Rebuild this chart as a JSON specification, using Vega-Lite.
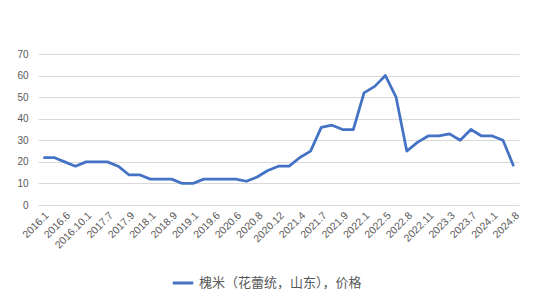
{
  "$schema": "https://vega.github.io/schema/vega-lite/v6.json",
  "width": 481,
  "height": 151,
  "autosize": "none",
  "padding": {"left": 38, "top": 54, "right": 17, "bottom": 97},
  "background": "white",
  "config": {"view": {"stroke": null}},
  "data": {"values": [
    {"t": "2016.1", "v": 22}, {"t": "2016.3", "v": 22}, {"t": "2016.6", "v": 20}, {"t": "2016.8", "v": 18},
    {"t": "2016.10.1", "v": 20}, {"t": "2017.3", "v": 20}, {"t": "2017.7", "v": 20}, {"t": "2017.8", "v": 18},
    {"t": "2017.9", "v": 14}, {"t": "2017.11", "v": 14}, {"t": "2018.1", "v": 12}, {"t": "2018.5", "v": 12},
    {"t": "2018.9", "v": 12}, {"t": "2018.11", "v": 10}, {"t": "2019.1", "v": 10}, {"t": "2019.3", "v": 12},
    {"t": "2019.6", "v": 12}, {"t": "2019.9", "v": 12}, {"t": "2020.6", "v": 12}, {"t": "2020.7", "v": 11},
    {"t": "2020.8", "v": 13}, {"t": "2020.10", "v": 16}, {"t": "2020.12", "v": 18}, {"t": "2021.2", "v": 18},
    {"t": "2021.4", "v": 22}, {"t": "2021.5", "v": 25}, {"t": "2021.7", "v": 36}, {"t": "2021.8", "v": 37},
    {"t": "2021.9", "v": 35}, {"t": "2021.11", "v": 35}, {"t": "2022.1", "v": 52}, {"t": "2022.3", "v": 55},
    {"t": "2022.5", "v": 60}, {"t": "2022.6", "v": 50}, {"t": "2022.8", "v": 25}, {"t": "2022.10", "v": 29},
    {"t": "2022.11", "v": 32}, {"t": "2023.1", "v": 32}, {"t": "2023.3", "v": 33}, {"t": "2023.5", "v": 30},
    {"t": "2023.7", "v": 35}, {"t": "2023.10", "v": 32}, {"t": "2024.1", "v": 32}, {"t": "2024.5", "v": 30},
    {"t": "2024.8", "v": 18}
  ]},
  "mark": {"type": "line", "strokeWidth": 2.75, "strokeJoin": "round"},
  "encoding": {
    "x": {
      "field": "t", "type": "ordinal", "sort": null,
      "scale": {"type": "point", "padding": 0.5},
      "axis": {
        "title": null,
        "values": ["2016.1","2016.6","2016.10.1","2017.7","2017.9","2018.1","2018.9","2019.1","2019.6","2020.6","2020.8","2020.12","2021.4","2021.7","2021.9","2022.1","2022.5","2022.8","2022.11","2023.3","2023.7","2024.1","2024.8"],
        "labelAngle": -45, "labelAlign": "right", "labelBaseline": "top",
        "labelFont": "Liberation Sans", "labelFontSize": 10.5, "labelColor": "#595959",
        "domain": false, "ticks": false, "grid": false, "labelPadding": 5, "labelOverlap": false
      }
    },
    "y": {
      "field": "v", "type": "quantitative",
      "scale": {"domain": [0, 70], "nice": false},
      "axis": {
        "title": null, "values": [0,10,20,30,40,50,60,70],
        "labelFont": "Liberation Sans", "labelFontSize": 10, "labelColor": "#595959",
        "domain": false, "ticks": false, "gridColor": "#d9d9d9", "gridWidth": 1, "labelPadding": 10
      }
    },
    "color": {
      "datum": "槐米（花蕾统，山东），价格",
      "scale": {"range": ["#4472C4"]},
      "legend": {
        "title": null, "orient": "none", "legendX": 133, "legendY": 217, "symbolType": "stroke", "symbolSize": 420,
        "symbolStrokeWidth": 3, "labelFont": "Noto Sans CJK SC", "labelFontSize": 13, "labelLimit": 400,
        "labelColor": "#595959", "labelOffset": 4
      }
    }
  }
}
